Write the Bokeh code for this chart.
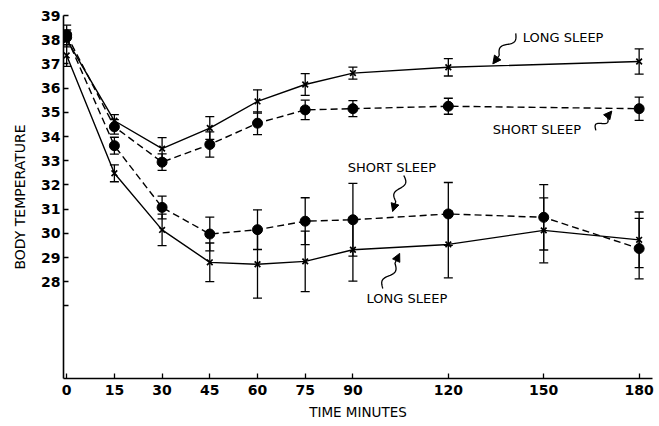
import numpy as np
from bokeh.plotting import figure
from bokeh.models import (ColumnDataSource, Whisker, TeeHead, FixedTicker, Label,
                          Arrow, NormalHead, Range1d)
from bokeh.embed import file_html
from bokeh.resources import INLINE

# ---------------- data ----------------
time_upper = [0, 15, 30, 45, 60, 75, 90, 120, 180]
temp_long_upper = [38.0, 34.65, 33.5, 34.35, 35.45, 36.15, 36.62, 36.86, 37.1]
err_long_upper = [0.3, 0.25, 0.45, 0.47, 0.48, 0.45, 0.25, 0.36, 0.52]
temp_short_upper = [38.2, 34.4, 32.94, 33.67, 34.55, 35.1, 35.15, 35.25, 35.15]
err_short_upper = [0.4, 0.3, 0.34, 0.52, 0.47, 0.4, 0.33, 0.33, 0.48]

time_lower = [0, 15, 30, 45, 60, 75, 90, 120, 150, 180]
temp_short_lower = [38.1, 33.62, 31.07, 29.97, 30.15, 30.5, 30.56, 30.8, 30.66, 29.37]
err_short_lower = [0.3, 0.35, 0.47, 0.7, 0.82, 0.97, 1.5, 1.3, 1.35, 1.25]
temp_long_lower = [37.35, 32.48, 30.14, 28.8, 28.72, 28.84, 29.32, 29.54, 30.12, 29.73]
err_long_lower = [0.45, 0.35, 0.65, 0.8, 1.4, 1.25, 1.3, 1.38, 1.34, 1.15]

x_ticks = [0, 15, 30, 45, 60, 75, 90, 120, 150, 180]
y_ticks = [27, 28, 29, 30, 31, 32, 33, 34, 35, 36, 37, 38, 39]
y_labels = {27: ""}

FONT = "DejaVu Sans"

X0, X1 = -1.0, 184.2
Y0, Y1 = 24.0, 39.0
FW, FH = 589, 363
LEFT = 63

p = figure(width=659, height=426, x_range=Range1d(X0, X1), y_range=Range1d(Y0, Y1),
           output_backend="svg", toolbar_location=None,
           min_border_left=LEFT, min_border_right=7, min_border_top=15, min_border_bottom=48)
p.outline_line_color = None
p.xgrid.visible = False
p.ygrid.visible = False
p.background_fill_color = "white"

for ax in (p.xaxis[0], p.yaxis[0]):
    ax.axis_line_color = "black"
    ax.axis_line_width = 1.6
    ax.major_tick_line_color = "black"
    ax.major_tick_line_width = 1.3
    ax.major_tick_in = 5
    ax.major_tick_out = 0
    ax.minor_tick_line_color = None
    ax.major_label_text_font = FONT
    ax.major_label_text_font_style = "bold"
    ax.major_label_text_font_size = "14px"
    ax.major_label_text_color = "black"
    ax.axis_label_text_font = FONT
    ax.axis_label_text_font_style = "normal"
    ax.axis_label_text_color = "black"

p.xaxis[0].ticker = FixedTicker(ticks=x_ticks)
p.xaxis[0].major_label_standoff = 6
p.xaxis[0].axis_label = "TIME MINUTES"
p.xaxis[0].axis_label_text_font_size = "13.5px"
p.xaxis[0].axis_label_standoff = 6

p.yaxis[0].ticker = FixedTicker(ticks=y_ticks)
p.yaxis[0].major_label_overrides = y_labels
p.yaxis[0].major_label_standoff = 3
p.yaxis[0].axis_label = "BODY TEMPERATURE"
p.yaxis[0].axis_label_text_font_size = "14px"
p.yaxis[0].axis_label_standoff = 10


def add_series(t, v, e, dashed, marker):
    src = ColumnDataSource(dict(x=t, y=v,
                                upper=[a + b for a, b in zip(v, e)],
                                lower=[a - b for a, b in zip(v, e)]))
    p.line("x", "y", source=src, line_color="black", line_width=1.4,
           line_dash="7 4" if dashed else "solid")
    w = Whisker(source=src, base="x", upper="upper", lower="lower", dimension="height",
                line_color="black", line_width=1.3,
                upper_head=TeeHead(size=9, line_color="black", line_width=1.3),
                lower_head=TeeHead(size=9, line_color="black", line_width=1.3))
    p.add_layout(w)
    if marker == "x":
        p.scatter("x", "y", source=src, marker="x", size=8, line_width=1.7, color="black")
    else:
        p.scatter("x", "y", source=src, marker="circle", size=10, color="black")


add_series(time_upper, temp_long_upper, err_long_upper, False, "x")
add_series(time_upper, temp_short_upper, err_short_upper, True, "circle")
add_series(time_lower, temp_short_lower, err_short_lower, True, "circle")
add_series(time_lower, temp_long_lower, err_long_lower, False, "x")

# ---------------- annotations ----------------
sx = FW / (X1 - X0)
sy = FH / (Y1 - Y0)


def squiggle(x0, y0, x1, y1, amp=4.0):
    # wavy arrow between two data points (shape computed in pixel space)
    ax_, ay_ = x0 * sx, y0 * sy
    bx_, by_ = x1 * sx, y1 * sy
    dx, dy = bx_ - ax_, by_ - ay_
    L = np.hypot(dx, dy)
    nx, ny = -dy / L, dx / L
    t = np.linspace(0, 1, 50)
    off = np.where(t < 0.72, amp * np.sin(2 * np.pi * t / 0.72), 0.0)
    px = ax_ + t * dx + off * nx
    py = ay_ + t * dy + off * ny
    xs, ys = px / sx, py / sy
    p.line(xs[:-3], ys[:-3], line_color="black", line_width=1.3)
    p.add_layout(Arrow(end=NormalHead(size=8, fill_color="black", line_color="black"),
                       x_start=xs[-8], y_start=ys[-8], x_end=x1, y_end=y1,
                       line_color="black", line_width=1.3))


labels = [
    ("LONG SLEEP", 143.4, 38.09),
    ("SHORT SLEEP", 134.0, 34.29),
    ("SHORT SLEEP", 88.4, 32.72),
    ("LONG SLEEP", 94.3, 27.3),
]
for txt, lx, ly in labels:
    p.add_layout(Label(x=lx, y=ly, text=txt, text_font=FONT, text_font_size="13px",
                       text_color="black", text_align="left", text_baseline="middle"))

squiggle(141.2, 38.26, 134.0, 37.0)
squiggle(166.4, 34.25, 171.4, 35.05)
squiggle(106.0, 32.39, 102.5, 30.9)
squiggle(99.4, 27.72, 104.7, 29.17)

open("out.html", "w").write(file_html(p, INLINE))
